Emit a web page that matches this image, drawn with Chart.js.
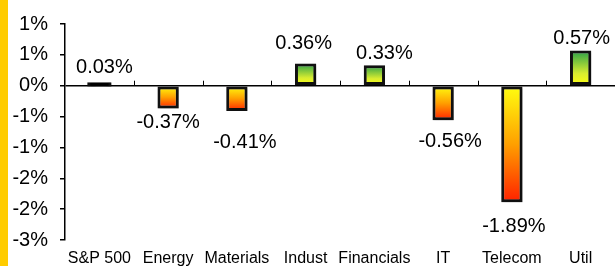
<!DOCTYPE html>
<html>
<head>
<meta charset="utf-8">
<script src="https://cdn.jsdelivr.net/npm/chart.js@4/dist/chart.umd.min.js"></script>
<style>
  html, body { margin: 0; padding: 0; background: #fff; }
  #wrap { width: 615px; height: 266px; position: relative; }
</style>
</head>
<body>
<div id="wrap"><canvas id="myChart" width="615" height="266"></canvas></div>
<script>
// data
const categories = ['S&P 500', 'Energy', 'Materials', 'Indust', 'Financials', 'IT', 'Telecom', 'Util'];
const changes = [0.03, -0.37, -0.41, 0.36, 0.33, -0.56, -1.89, 0.57];
const tickValues = [1, 0.5, 0, -0.5, -1, -1.5, -2, -2.5];
const tickLabels = ['1%', '1%', '0%', '-1%', '-1%', '-2%', '-2%', '-3%'];

// label nudges (style only, px from bar end)
const labelDx = [5, 0, 8, -2, 10, 7, 2, 1];
const labelDy = [-16, 14, 31, -20, -12, 21, 24, -12];

// gradient per bar, from zero line to bar end
function barFill(c) {
  const chart = c.chart;
  const y = chart.scales.y;
  if (!chart.chartArea || !y) return '#ffff00';
  const v = c.raw;
  const y0 = y.getPixelForValue(0);
  const y1 = y.getPixelForValue(v);
  if (Math.abs(y1 - y0) < 3) return '#000';
  const g = chart.ctx.createLinearGradient(0, y0, 0, y1);
  g.addColorStop(0, '#ffff10');
  if (v >= 0) {
    g.addColorStop(0.35, '#d8ec30');
    g.addColorStop(1, '#28a048');
  } else {
    g.addColorStop(0.5, '#ffa000');
    g.addColorStop(1, '#ff2000');
  }
  return g;
}

// yellow stripe on the left, shadow, small ticks on zero line, value labels
const extras = {
  id: 'extras',
  beforeDraw(chart) {
    const ctx = chart.ctx;
    ctx.save();
    ctx.fillStyle = '#ffcc00';
    ctx.fillRect(0, 0, 8, chart.height);
    ctx.restore();
  },
  beforeDatasetsDraw(chart) {
    const ctx = chart.ctx;
    ctx.save();
    ctx.shadowColor = 'rgba(0,0,0,0.35)';
    ctx.shadowBlur = 3;
    ctx.shadowOffsetX = 1.5;
    ctx.shadowOffsetY = 1.5;
  },
  afterDatasetsDraw(chart) {
    const ctx = chart.ctx;
    ctx.restore();
    const x = chart.scales.x, y = chart.scales.y;
    const y0 = y.getPixelForValue(0);
    // category boundary ticks on zero line
    ctx.save();
    ctx.strokeStyle = '#000';
    ctx.lineWidth = 1;
    for (let i = 1; i < categories.length; i++) {
      const xb = (x.getPixelForValue(i - 1) + x.getPixelForValue(i)) / 2;
      ctx.beginPath();
      ctx.moveTo(Math.round(xb) + 0.5, y0 - 5);
      ctx.lineTo(Math.round(xb) + 0.5, y0);
      ctx.stroke();
    }
    // value labels
    ctx.fillStyle = '#000';
    ctx.font = '20px "Liberation Sans", Arial, sans-serif';
    ctx.textAlign = 'center';
    ctx.textBaseline = 'middle';
    const meta = chart.getDatasetMeta(0);
    meta.data.forEach((bar, i) => {
      const v = changes[i];
      ctx.fillText(v.toFixed(2) + '%', bar.x + labelDx[i], bar.y + labelDy[i]);
    });
    ctx.restore();
  }
};

const ctx = document.getElementById('myChart');

new Chart(ctx, {
  type: 'bar',
  data: {
    labels: categories,
    datasets: [{
      data: changes,
      backgroundColor: barFill,
      borderColor: '#111',
      borderWidth: 3,
      borderSkipped: false,
      inflateAmount: c => (Math.abs(c.raw) < 0.1 ? 1.5 : 'auto'),
      barPercentage: 0.31,
      categoryPercentage: 1
    }]
  },
  options: {
    responsive: false,
    animation: false,
    devicePixelRatio: 1,
    layout: { padding: { left: 8, right: 0, top: 9, bottom: 0 } },
    plugins: {
      legend: { display: false },
      tooltip: { enabled: false }
    },
    scales: {
      x: {
        grid: { display: false },
        border: { display: false },
        afterFit(scale) { scale.height = 26; },
        ticks: {
          color: '#000',
          font: { size: 16, family: '"Liberation Sans", Arial, sans-serif' },
          padding: 1,
          maxRotation: 0,
          autoSkip: false
        }
      },
      y: {
        min: -2.5,
        max: 1,
        afterBuildTicks(scale) {
          scale.ticks = tickValues.map(v => ({ value: v }));
        },
        afterFit(scale) { scale.width = 57; },
        border: { display: true, color: '#000', width: 1.5 },
        grid: {
          color: c => (c.tick && c.tick.value === 0 ? '#000' : 'rgba(0,0,0,0)'),
          lineWidth: 1.5,
          tickColor: '#000',
          tickLength: 5
        },
        ticks: {
          color: '#000',
          font: { size: 20, family: '"Liberation Sans", Arial, sans-serif' },
          padding: 12,
          callback: (val, i) => tickLabels[i]
        }
      }
    }
  },
  plugins: [extras]
});
</script>
</body>
</html>
